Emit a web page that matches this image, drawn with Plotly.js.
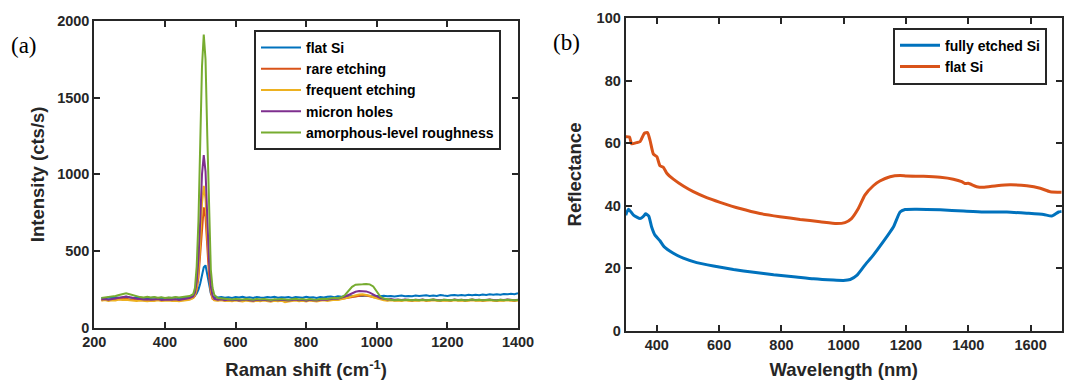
<!DOCTYPE html>
<html>
<head>
<meta charset="utf-8">
<script src="https://cdn.plot.ly/plotly-3.0.1.min.js"></script>
<style>html,body{margin:0;padding:0;background:#fff;}#chart{width:1065px;height:383px;}</style>
</head>
<body>
<div id="chart"></div>
<script>
// ---------- Panel (a): Raman spectra ----------
const ramanX = [220,230,240,250,260,270,280,290,300,310,320,330,340,350,360,370,380,390,400,410,420,430,440,450,460,470,
  480,485,490,495,500,505,510,515,520,525,530,535,540,
  550,560,570,580,590,600,610,620,630,640,650,660,670,680,690,700,710,720,730,740,750,760,770,780,790,800,810,820,830,840,850,860,870,880,890,900,
  910,920,930,940,950,960,970,980,990,1000,
  1010,1020,1030,1040,1050,1060,1070,1080,1090,1100,1110,1120,1130,1140,1150,1160,1170,1180,1190,1200,1210,1220,1230,1240,1250,1260,1270,1280,1290,1300,1310,1320,1330,1340,1350,1360,1370,1380,1390,1400];

const flatSi = [196,192,198,195,200,197,199,203,198,195,200,196,193,197,195,199,194,196,192,197,195,199,194,196,195,200,
  205,210,225,250,290,345,395,408,350,270,225,205,200,
  198,202,197,200,196,201,198,203,197,200,196,202,199,197,201,198,203,197,200,198,202,196,201,199,197,203,198,200,196,202,199,203,205,201,206,204,
  207,205,208,206,210,209,211,208,206,209,
  207,210,206,209,205,208,211,206,209,207,212,208,210,213,209,212,208,214,211,209,213,215,211,214,212,216,213,217,214,218,215,219,216,220,217,221,219,223,220,226];

const rareEtching = [182,185,180,184,183,188,187,190,186,184,181,185,183,180,184,182,186,181,183,185,182,184,180,183,185,188,
  195,210,245,330,490,690,785,720,520,340,230,190,182,
  180,183,178,182,179,184,181,177,183,180,178,182,179,184,180,177,182,179,183,180,178,181,184,179,182,177,183,180,178,182,185,181,184,188,186,190,
  195,200,206,210,212,213,211,206,198,192,
  186,183,181,184,180,182,179,183,181,178,182,180,183,179,181,184,180,178,182,181,179,183,180,182,178,181,184,180,182,179,181,183,180,178,182,180,183,181,179,182];

const frequentEtching = [178,182,176,180,179,185,183,184,180,177,175,179,177,174,178,176,180,175,177,179,176,178,174,177,180,184,
  195,215,260,370,560,810,925,840,600,380,250,195,180,
  177,180,175,178,174,179,176,172,178,175,173,177,174,179,175,171,177,174,178,168,173,176,179,174,177,172,178,175,173,177,180,176,179,184,182,186,
  192,198,207,214,218,220,217,210,200,192,
  185,181,178,181,177,179,176,180,178,175,179,177,180,176,178,181,177,175,179,178,176,180,177,179,175,178,181,177,179,176,178,180,177,175,179,177,180,178,176,179];

const micronHoles = [186,189,184,188,190,195,200,205,201,194,190,188,185,187,184,186,188,183,186,185,184,187,183,186,188,195,
  205,230,300,450,700,1000,1125,1020,720,430,270,210,190,
  184,187,181,185,180,183,179,182,185,181,178,183,180,184,181,178,183,180,184,181,179,182,185,180,183,178,184,181,179,183,186,184,188,192,190,196,
  205,215,228,236,240,241,238,230,218,205,
  195,190,186,188,184,186,182,185,183,180,184,182,185,181,183,186,182,180,184,183,181,185,182,184,180,183,186,182,184,181,183,185,182,180,184,182,185,183,181,184];

const amorphous = [196,199,201,204,208,215,222,226,220,212,205,201,199,203,198,201,197,200,196,199,197,201,198,200,203,208,
  220,260,400,700,1200,1700,1910,1750,1250,700,380,260,215,
  195,192,189,188,186,189,187,185,188,186,184,188,186,189,185,183,187,185,189,186,184,187,190,185,188,184,189,186,184,188,191,188,192,196,194,200,
  215,240,268,282,286,285,287,284,270,240,
  205,192,186,184,181,183,180,182,184,180,183,181,184,180,182,185,181,179,183,182,180,184,181,183,179,182,185,181,183,180,182,184,181,179,183,181,184,182,180,183];

const ramanNames = ["flat Si","rare etching","frequent etching","micron holes","amorphous-level roughness"];

// ---------- Panel (b): Reflectance ----------
const etchedX = [300,309,325,346,356,364,374,383,394,410,423,453,485,528,582,646,711,775,839,903,967,999,1021,1043,1068,1095,1127,1160,1181,1197,1235,1310,1385,1449,1524,1588,1642,1668,1690,1700];
const etchedR = [37,38.9,37,35.9,36.5,37.4,36.7,33.3,30.6,28.8,26.9,24.8,23.2,21.8,20.7,19.6,18.7,17.9,17.3,16.6,16.2,16.1,16.4,17.8,21,24.2,28.5,33.3,38,38.8,38.9,38.7,38.3,38,38,37.6,37.2,36.7,38,38.2];
const flatX = [300,312,319,335,346,360,370,378,389,400,410,421,432,453,485,517,560,603,667,731,795,860,924,977,1004,1025,1047,1068,1095,1116,1149,1181,1202,1256,1310,1352,1379,1389,1400,1427,1448,1491,1534,1588,1631,1663,1700];
const flatR = [62.1,62,59.8,60.2,60.5,63.2,63.4,61,56.5,55.7,52.8,52.3,50.4,48.5,46.3,44.5,42.6,41.1,39.1,37.5,36.5,35.6,34.9,34.3,34.6,35.9,39.1,43.4,46.4,47.9,49.3,49.7,49.5,49.4,49.1,48.5,47.7,47.1,47.2,46.1,45.9,46.4,46.7,46.4,45.6,44.5,44.3];
const reflNames = ["fully etched Si","flat Si"];

const colors = ["#0072BD","#D95319","#EDB120","#7E2F8E","#77AC30"];
const ramanSeries = [flatSi, rareEtching, frequentEtching, micronHoles, amorphous];

const traces = [];
ramanSeries.forEach((ys, i) => {
  traces.push({x: ramanX, y: ys, type: "scatter", mode: "lines", name: ramanNames[i],
    line: {color: colors[i], width: 2}, xaxis: "x", yaxis: "y", legend: "legend"});
});
traces.push({x: etchedX, y: etchedR, type: "scatter", mode: "lines", name: reflNames[0],
  line: {color: colors[0], width: 3, shape: "spline", smoothing: 0.5}, xaxis: "x2", yaxis: "y2", legend: "legend2"});
traces.push({x: flatX, y: flatR, type: "scatter", mode: "lines", name: reflNames[1],
  line: {color: colors[1], width: 3, shape: "spline", smoothing: 0.5}, xaxis: "x2", yaxis: "y2", legend: "legend2"});

const axCol = "#262626";
const FAM = "Liberation Sans, Arial, Helvetica, sans-serif";
const tickFont = {family: FAM, size: 14.5, color: axCol, weight: "bold"};
const titleFont = {family: FAM, size: 18.5, color: axCol, weight: "bold"};
const legFont = {family: FAM, size: 14, color: "#000", weight: "bold"};
const W = 1065, H = 383;
function common(extra) {
  return Object.assign({
    showline: true, linecolor: axCol, linewidth: 2, mirror: "ticks",
    ticks: "inside", ticklen: 6, tickwidth: 2, tickcolor: axCol,
    showgrid: false, zeroline: false, tickfont: tickFont, automargin: false
  }, extra);
}

const layout = {
  width: W, height: H,
  margin: {l: 0, r: 0, t: 0, b: 0},
  paper_bgcolor: "#fff", plot_bgcolor: "#fff",
  showlegend: true,
  xaxis: common({domain: [94.3/W, 518/W], range: [200, 1400], tickvals: [200,400,600,800,1000,1200,1400], anchor: "y",
    title: {text: "Raman shift (cm<sup>-1</sup>)", font: titleFont, standoff: 14}}),
  yaxis: common({domain: [1-328/H, 1-20.7/H], range: [0, 2000], tickvals: [0,500,1000,1500,2000], anchor: "x",
    title: {text: "Intensity (cts/s)", font: titleFont, standoff: 8}}),
  xaxis2: common({domain: [625.7/W, 1061.7/W], range: [300, 1700], tickvals: [400,600,800,1000,1200,1400,1600], anchor: "y2",
    title: {text: "Wavelength (nm)", font: titleFont, standoff: 11}}),
  yaxis2: common({domain: [1-330.7/H, 1-18.3/H], range: [0, 100], tickvals: [0,20,40,60,80,100], anchor: "x2",
    title: {text: "Reflectance", font: titleFont, standoff: 10}}),
  legend: {x: 254/W, y: 1-30/H, xanchor: "left", yanchor: "top", bgcolor: "#fff",
    bordercolor: axCol, borderwidth: 2, font: legFont, itemwidth: 40, tracegroupgap: 0},
  legend2: {x: 893/W, y: 1-27.7/H, xanchor: "left", yanchor: "top", bgcolor: "#fff",
    bordercolor: axCol, borderwidth: 2, font: legFont, itemwidth: 40, tracegroupgap: 0},
  annotations: [
    {text: "(a)", xref: "paper", yref: "paper", x: 24/W, y: 1-45/H, xanchor: "center", yanchor: "middle", showarrow: false,
      font: {family: "Liberation Serif, Times New Roman, serif", size: 23, color: "#000"}},
    {text: "(b)", xref: "paper", yref: "paper", x: 566/W, y: 1-42/H, xanchor: "center", yanchor: "middle", showarrow: false,
      font: {family: "Liberation Serif, Times New Roman, serif", size: 23, color: "#000"}}
  ]
};

Plotly.newPlot("chart", traces, layout, {displayModeBar: false, staticPlot: true});
</script>
</body>
</html>
